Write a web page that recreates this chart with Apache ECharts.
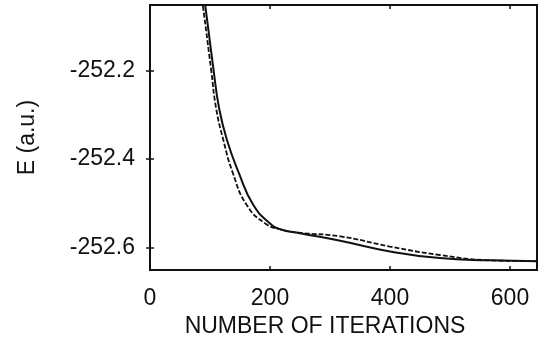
<!DOCTYPE html>
<html>
<head>
<meta charset="utf-8">
<script src="https://cdn.jsdelivr.net/npm/echarts@6/dist/echarts.min.js"></script>
<style>
  html, body { margin: 0; padding: 0; background: #fff; }
  #chart { width: 538px; height: 343px; }
</style>
</head>
<body>
<div id="chart"></div>
<script>
// values
const xTicks = [0, 200, 400, 600];
const yTicks = [-252.6, -252.4, -252.2];

const solidIter = [84, 92, 106, 115, 128, 148, 172, 200, 217, 250, 317, 400, 483, 567, 645];
const solidE = [-251.976, -252.053, -252.200, -252.284, -252.356, -252.431, -252.503, -252.545,
  -252.558, -252.567, -252.584, -252.608, -252.623, -252.628, -252.630];

const dashedIter = [80, 88, 102, 110, 122, 138, 161, 192, 217, 250, 317, 400, 483, 567, 645];
const dashedE = [-251.976, -252.053, -252.200, -252.284, -252.356, -252.431, -252.503, -252.545,
  -252.558, -252.566, -252.574, -252.597, -252.616, -252.628, -252.630];

const font = '"Liberation Sans", Arial, sans-serif';
const ink = '#111';

const pair = (xs, ys) => xs.map((x, i) => [x, ys[i]]);

const chart = echarts.init(document.getElementById('chart'), null, { renderer: 'canvas' });

const tickInside = (values) => ({
  show: true,
  inside: true,
  length: 4,
  customValues: values,
  lineStyle: { color: ink, width: 1.5 },
});

chart.setOption({
  animation: false,
  backgroundColor: '#fff',
  grid: {
    left: 150,
    top: 5,
    right: 1,
    bottom: 66,
    show: true,
    borderColor: ink,
    borderWidth: 2,
    backgroundColor: 'transparent',
  },
  xAxis: [
    {
      type: 'value',
      min: 0,
      max: 645,
      position: 'bottom',
      name: 'NUMBER OF ITERATIONS',
      nameLocation: 'middle',
      nameGap: 31,
      nameTextStyle: { fontFamily: font, fontSize: 23, color: ink, padding: [0, 37, 0, 0] },
      axisLine: { show: false },
      axisTick: tickInside(xTicks),
      axisLabel: {
        customValues: xTicks,
        margin: 17,
        fontFamily: font,
        fontSize: 23,
        color: ink,
      },
      splitLine: { show: false },
    },
    {
      type: 'value',
      min: 0,
      max: 645,
      position: 'top',
      axisLine: { show: false },
      axisTick: tickInside(xTicks),
      axisLabel: { show: false },
      splitLine: { show: false },
    },
  ],
  yAxis: [
    {
      type: 'value',
      min: -252.65,
      max: -252.053,
      position: 'left',
      name: 'E (a.u.)',
      nameLocation: 'middle',
      nameGap: 111,
      nameTextStyle: { fontFamily: font, fontSize: 23, color: ink },
      axisLine: { show: false },
      axisTick: tickInside(yTicks),
      axisLabel: {
        customValues: yTicks,
        margin: 15,
        fontFamily: font,
        fontSize: 23,
        color: ink,
        formatter: (v) => v.toFixed(1),
      },
      splitLine: { show: false },
    },
    {
      type: 'value',
      min: -252.65,
      max: -252.053,
      position: 'right',
      axisLine: { show: false },
      axisTick: tickInside(yTicks),
      axisLabel: { show: false },
      splitLine: { show: false },
    },
  ],
  series: [
    {
      name: 'solid',
      type: 'line',
      data: pair(solidIter, solidE),
      showSymbol: false,
      smooth: 0.5,
      clip: true,
      lineStyle: { color: ink, width: 2 },
    },
    {
      name: 'dashed',
      type: 'line',
      data: pair(dashedIter, dashedE),
      showSymbol: false,
      smooth: 0.5,
      clip: true,
      lineStyle: { color: ink, width: 1.8, type: [5, 2] },
    },
  ],
});
</script>
</body>
</html>
